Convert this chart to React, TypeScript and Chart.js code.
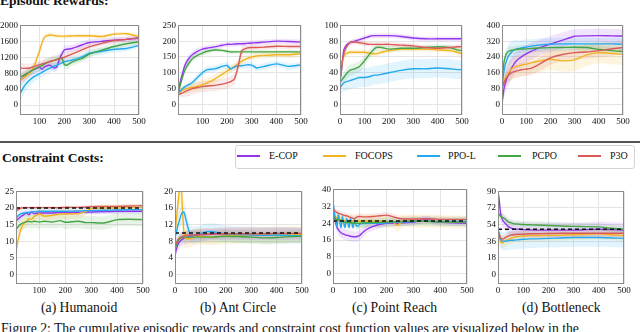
import React, { useEffect, useRef } from "react";
import { Chart, registerables } from "chart.js";
Chart.register(...registerables);

// ---------- DATA ----------
const SERIES_NAMES = ["E-COP", "FOCOPS", "PPO-L", "PCPO", "P3O"];
const PANEL_TITLES = ["(a) Humanoid", "(b) Ant Circle", "(c) Point Reach", "(d) Bottleneck"];
const COST_THRESHOLDS = [20, 10, 25, 49];

// Episodic rewards: Humanoid
const rHumX = [22, 40, 60, 80, 100, 110, 120, 140, 160, 170, 180, 190, 200, 210, 230, 250, 275, 300, 350, 400, 450, 500];
const rHumECOP = [620, 720, 820, 900, 950, 900, 960, 1000, 930, 960, 1150, 1280, 1380, 1400, 1420, 1460, 1520, 1570, 1600, 1630, 1650, 1680];
const rHumECOPsd = [120, 120, 110, 110, 100, 100, 100, 100, 100, 100, 110, 110, 100, 100, 90, 90, 90, 80, 80, 70, 70, 70];
const rHumFOCOPS = [620, 700, 800, 1000, 1350, 1550, 1700, 1760, 1745, 1735, 1730, 1730, 1730, 1730, 1735, 1740, 1740, 1740, 1720, 1780, 1790, 1720];
const rHumFOCOPSsd = [100, 100, 100, 100, 90, 80, 70, 60, 50, 50, 50, 50, 50, 50, 50, 50, 50, 50, 50, 50, 50, 60];
const rHumPPOL = [280, 480, 620, 720, 780, 820, 860, 920, 980, 1000, 1030, 1060, 1090, 1100, 1130, 1160, 1220, 1300, 1350, 1400, 1420, 1500];
const rHumPPOLsd = [200, 180, 150, 130, 120, 120, 110, 110, 100, 100, 100, 100, 100, 100, 90, 90, 90, 80, 80, 80, 70, 70];
const rHumPCPO = [700, 760, 830, 900, 960, 990, 1030, 1090, 1130, 1150, 1170, 1180, 1020, 1000, 1080, 1130, 1180, 1280, 1380, 1470, 1540, 1590];
const rHumPCPOsd = [100, 100, 100, 100, 100, 100, 110, 110, 120, 120, 120, 120, 110, 110, 100, 100, 90, 90, 80, 80, 70, 70];
const rHumP3O = [930, 920, 930, 970, 1010, 1030, 1050, 1090, 1120, 1140, 1160, 1180, 1200, 1230, 1280, 1330, 1400, 1460, 1550, 1620, 1650, 1690];
const rHumP3Osd = [130, 120, 110, 100, 100, 100, 100, 100, 100, 100, 90, 90, 90, 90, 90, 80, 80, 80, 70, 70, 60, 60];
const rHumYTicks = [0, 400, 800, 1200, 1600, 2000];

// Episodic rewards: Ant Circle
const rAntX = [1, 10, 20, 30, 45, 60, 80, 100, 120, 150, 180, 200, 215, 230, 245, 260, 280, 300, 320, 350, 400, 450, 500];
const rAntECOP = [34, 70, 100, 125, 145, 158, 168, 175, 178, 182, 187, 190, 190, 191, 192, 192, 193, 194, 195, 197, 200, 199, 197];
const rAntECOPsd = [5, 10, 12, 12, 12, 10, 10, 8, 8, 8, 8, 8, 8, 8, 8, 8, 8, 8, 8, 8, 8, 8, 8];
const rAntFOCOPS = [35, 40, 45, 48, 51, 54, 57, 62, 68, 80, 95, 105, 112, 120, 128, 137, 145, 150, 153, 155, 157, 157, 160];
const rAntFOCOPSsd = [8, 10, 12, 14, 15, 16, 16, 16, 15, 14, 14, 14, 13, 12, 12, 12, 10, 10, 10, 10, 10, 10, 10];
const rAntPPOL = [35, 42, 50, 56, 62, 70, 85, 100, 110, 112, 120, 123, 112, 118, 122, 122, 125, 124, 115, 120, 128, 120, 125];
const rAntPPOLsd = [6, 8, 8, 9, 9, 10, 10, 10, 10, 10, 10, 10, 10, 10, 10, 10, 10, 10, 10, 10, 10, 10, 10];
const rAntPCPO = [34, 60, 88, 110, 130, 145, 155, 162, 168, 172, 171, 168, 166, 166, 166, 166, 166, 166, 166, 166, 166, 166, 166];
const rAntPCPOsd = [5, 8, 10, 10, 10, 10, 8, 8, 8, 6, 6, 6, 6, 6, 6, 6, 6, 6, 6, 6, 6, 6, 6];
const rAntP3O = [30, 33, 36, 40, 45, 50, 53, 56, 58, 60, 64, 68, 72, 80, 120, 170, 178, 180, 180, 181, 184, 183, 183];
const rAntP3Osd = [8, 10, 14, 16, 18, 18, 18, 18, 18, 18, 18, 18, 18, 18, 20, 15, 10, 8, 8, 8, 8, 8, 8];
const rAntYTicks = [0, 50, 100, 150, 200, 250];

// Episodic rewards: Point Reach
const rPtX = [0, 5, 10, 15, 20, 30, 40, 50, 60, 80, 100, 120, 140, 150, 170, 200, 250, 300, 350, 400, 450, 480, 500];
const rPtECOP = [30, 40, 55, 68, 72, 76, 78, 79, 80, 82, 84, 86, 87, 87, 87, 87, 86, 84, 83, 83, 83, 83, 83];
const rPtECOPsd = [4, 5, 5, 4, 4, 3, 3, 3, 3, 3, 3, 3, 3, 3, 3, 3, 3, 3, 3, 3, 3, 3, 3];
const rPtFOCOPS = [35, 45, 55, 60, 63, 65, 66, 66, 66, 66, 66, 65, 64, 64, 66, 68, 70, 70, 70, 69, 68, 66, 64];
const rPtFOCOPSsd = [5, 6, 6, 5, 4, 4, 3, 3, 3, 3, 3, 3, 3, 3, 3, 3, 3, 3, 3, 3, 3, 3, 3];
const rPtPPOL = [21, 23, 25, 27, 28, 29, 30, 31, 32, 34, 34, 35, 37, 37, 38, 40, 43, 45, 45, 46, 45, 44, 44];
const rPtPPOLsd = [8, 9, 10, 10, 11, 11, 11, 11, 12, 12, 12, 12, 12, 12, 12, 12, 12, 12, 12, 12, 12, 12, 12];
const rPtPCPO = [28, 30, 32, 34, 36, 40, 43, 44, 45, 48, 55, 63, 70, 72, 72, 70, 71, 71, 72, 73, 72, 69, 68];
const rPtPCPOsd = [4, 5, 6, 6, 7, 7, 7, 7, 7, 7, 7, 6, 5, 5, 4, 4, 3, 3, 3, 3, 3, 3, 3];
const rPtP3O = [30, 42, 55, 63, 68, 74, 78, 79, 79, 78, 77, 76, 76, 76, 76, 76, 75, 74, 72, 71, 72, 73, 73];
const rPtP3Osd = [4, 5, 5, 4, 3, 3, 3, 3, 3, 3, 3, 3, 3, 3, 3, 3, 3, 3, 3, 3, 3, 3, 3];
const rPtYTicks = [0, 20, 40, 60, 80, 100];

// Episodic rewards: Bottleneck
const rBotX = [0, 5, 10, 20, 30, 40, 50, 60, 70, 80, 100, 120, 150, 200, 250, 300, 350, 400, 450, 500];
const rBotECOP = [0, 50, 90, 130, 160, 185, 205, 220, 232, 240, 255, 268, 285, 305, 325, 345, 347, 348, 347, 346];
const rBotECOPsd = [20, 40, 50, 55, 55, 55, 55, 50, 50, 50, 45, 45, 40, 40, 40, 35, 35, 35, 35, 35];
const rBotFOCOPS = [70, 100, 120, 145, 165, 180, 188, 192, 195, 198, 203, 210, 218, 228, 220, 225, 250, 262, 258, 253];
const rBotFOCOPSsd = [30, 40, 45, 50, 55, 55, 55, 55, 55, 55, 55, 55, 55, 55, 55, 55, 55, 55, 55, 55];
const rBotPPOL = [80, 140, 180, 225, 250, 265, 275, 280, 283, 285, 290, 295, 300, 305, 306, 306, 306, 306, 306, 305];
const rBotPPOLsd = [40, 50, 60, 60, 60, 55, 50, 45, 40, 40, 40, 35, 35, 30, 30, 30, 30, 30, 30, 30];
const rBotPCPO = [110, 180, 225, 260, 270, 274, 276, 278, 279, 280, 281, 283, 285, 287, 288, 289, 288, 278, 272, 268];
const rBotPCPOsd = [30, 30, 25, 20, 20, 20, 20, 20, 20, 20, 20, 20, 20, 20, 20, 20, 20, 20, 20, 20];
const rBotP3O = [80, 100, 115, 135, 150, 160, 165, 168, 172, 175, 178, 182, 200, 235, 252, 262, 265, 272, 280, 288];
const rBotP3Osd = [30, 35, 35, 35, 35, 35, 35, 35, 35, 35, 35, 35, 35, 35, 35, 35, 35, 35, 35, 35];
const rBotYTicks = [0, 80, 160, 240, 320, 400];

// Constraint costs: Humanoid
const cHumX = [10, 20, 30, 40, 50, 60, 70, 80, 100, 120, 150, 180, 200, 250, 280, 300, 350, 400, 450, 500];
const cHumECOP = [16, 16.8, 17.5, 18, 18.5, 18, 18.8, 18.3, 18.5, 18.5, 18.5, 18.6, 18.6, 18.7, 18.8, 18.8, 18.9, 19, 19, 19];
const cHumECOPsd = [1, 1, 1, 0.8, 0.8, 0.8, 0.8, 0.7, 0.7, 0.7, 0.7, 0.7, 0.7, 0.7, 0.7, 0.7, 0.7, 0.7, 0.7, 0.7];
const cHumFOCOPS = [7, 11, 14, 15.3, 16, 16.8, 16.6, 17.4, 18.2, 17.5, 17.8, 18.2, 18.2, 18.3, 19, 19.8, 20, 20, 20.1, 20.1];
const cHumFOCOPSsd = [2, 2, 1.8, 1.6, 1.5, 1.5, 1.5, 1.5, 1.5, 1.5, 1.5, 1.5, 1.5, 1.5, 1.2, 1, 1, 1, 1, 1];
const cHumPPOL = [17, 17.8, 18.3, 18.5, 18.6, 18.7, 18.8, 18.9, 19, 19, 19, 19, 19, 19.1, 19.2, 19.2, 19.3, 19.4, 19.5, 19.5];
const cHumPPOLsd = [1, 1, 1, 1, 1, 1, 1, 1, 1, 1, 1, 1, 1, 1, 1, 1, 1, 1, 1, 1];
const cHumPCPO = [13.5, 14.5, 15.2, 15.6, 15.8, 16, 15.8, 16, 15.8, 16, 15.8, 16.2, 15.7, 16, 15.6, 15.6, 15.5, 16.5, 16.6, 16.5];
const cHumPCPOsd = [1.5, 1.8, 2, 2, 2, 2, 2, 2, 2, 2, 2, 2, 2, 2, 2, 2, 2, 2, 2, 2];
const cHumP3O = [19, 19.6, 20, 20.1, 20.1, 20.1, 20.1, 20.1, 20.1, 20.1, 20.1, 20.1, 20.2, 20.2, 20.3, 20.4, 20.5, 20.5, 20.6, 20.7];
const cHumP3Osd = [0.5, 0.5, 0.5, 0.5, 0.5, 0.5, 0.5, 0.5, 0.5, 0.5, 0.5, 0.5, 0.5, 0.5, 0.5, 0.5, 0.5, 0.5, 0.5, 0.5];
const cHumYTicks = [0, 5, 10, 15, 20, 25];

// Constraint costs: Ant Circle
const cAntX = [0, 5, 10, 15, 20, 25, 30, 35, 40, 50, 60, 70, 80, 100, 125, 150, 175, 200, 250, 300, 350, 400, 450, 500];
const cAntECOP = [4.5, 6, 7, 7.6, 8, 8.3, 8.5, 8.7, 8.8, 9, 9.2, 9.3, 9.4, 9.5, 9.6, 9.7, 9.8, 9.8, 9.8, 9.8, 9.8, 9.8, 9.8, 9.7];
const cAntECOPsd = [1, 1.2, 1.4, 1.5, 1.5, 1.5, 1.5, 1.5, 1.5, 1.5, 1.5, 1.5, 1.5, 1.5, 1.5, 1.5, 1.5, 1.5, 1.5, 1.5, 1.5, 1.5, 1.5, 1.5];
const cAntFOCOPS = [10, 13, 16, 19, 21, 21, 15, 10, 8.7, 8.6, 8.6, 8.8, 9, 9.2, 9.1, 9, 9.2, 9.3, 9.4, 9.5, 9.5, 9.5, 9.6, 9.6];
const cAntFOCOPSsd = [2, 3, 4, 4, 4, 4, 4, 3, 2.5, 2, 2, 2, 2, 2, 2, 2, 2, 2, 2, 2, 2, 2, 2, 2];
const cAntPPOL = [9, 10, 11.5, 12.5, 13.5, 14.5, 15, 15, 14, 11.5, 9.8, 9.5, 9.5, 9.8, 10.3, 10.3, 10, 9.8, 9.6, 9.5, 9.4, 9.5, 9.4, 9.3];
const cAntPPOLsd = [1.5, 2, 2, 2.5, 2.5, 2.5, 2.5, 2.5, 2.5, 2, 2, 2, 2, 2, 2, 2, 2, 2, 2, 2, 2, 2, 2, 2];
const cAntPCPO = [6, 7, 7.8, 8.3, 8.6, 8.8, 8.9, 9, 9, 9, 9, 9, 9, 9, 9, 9, 9.1, 9.2, 9.1, 9, 8.8, 8.9, 9.1, 9.2];
const cAntPCPOsd = [1.5, 1.5, 1.5, 1.5, 1.5, 1.5, 1.5, 1.5, 1.5, 1.5, 1.5, 1.5, 1.5, 1.5, 1.5, 1.5, 1.5, 1.5, 1.5, 1.5, 1.5, 1.5, 1.5, 1.5];
const cAntP3O = [7, 7.6, 8.2, 8.6, 8.9, 9.1, 9.2, 9.3, 9.4, 9.5, 9.5, 9.5, 9.5, 9.6, 9.7, 9.7, 9.8, 9.8, 9.8, 9.8, 9.8, 9.9, 9.9, 9.9];
const cAntP3Osd = [1.2, 1.2, 1.2, 1.2, 1.2, 1.2, 1.2, 1.2, 1.2, 1.2, 1.2, 1.2, 1.2, 1.2, 1.2, 1.2, 1.2, 1.2, 1.2, 1.2, 1.2, 1.2, 1.2, 1.2];
const cAntYTicks = [0, 4, 8, 12, 16, 20];

// Constraint costs: Point Reach
const cPtX = [0, 5, 10, 15, 20, 25, 30, 35, 40, 45, 50, 55, 60, 65, 70, 75, 80, 85, 90, 100, 110, 125, 150, 175, 200, 225, 240, 260, 300, 350, 375, 400, 450, 500];
const cPtECOP = [30, 27, 24, 22, 21, 20, 19.5, 19, 18.8, 18.5, 18.3, 18.2, 18, 17.8, 17.7, 17.6, 17.6, 17.6, 17.7, 18.2, 19.5, 21, 22.5, 23.5, 24, 24, 24, 24.2, 24.5, 26, 25, 24.5, 24.2, 24];
const cPtECOPsd = [2, 2, 2.5, 2.5, 2.5, 2.5, 2.5, 2.5, 2.5, 2.5, 2.5, 2.5, 2.5, 2.5, 2.5, 2.5, 2.5, 2.5, 2.5, 2.5, 2.5, 2, 2, 2, 1.5, 1.5, 1.5, 1.5, 1.5, 1.5, 1.5, 1.5, 1.5, 1.5];
const cPtFOCOPS = [30, 28, 27, 26.5, 26, 25.8, 25.5, 25.3, 25.2, 25.1, 25, 25, 25, 25, 25, 25, 25, 25, 25, 25, 25, 25, 25, 25, 24.8, 24.5, 23, 24.8, 25, 25, 25, 24.8, 24.6, 24.5];
const cPtFOCOPSsd = [3, 3, 3, 3, 3, 3, 3, 3, 3, 3, 3, 3, 3, 3, 3, 3, 3, 3, 3, 3, 3, 3, 3, 3, 3, 3, 3, 3, 3, 3, 3, 3, 3, 3];
const cPtPPOL = [35, 29, 25, 22.5, 28, 25, 22, 27, 24, 22, 26, 24.5, 22, 26, 24, 22, 25.5, 23.5, 22.5, 23.5, 23.8, 23.8, 24, 24, 24.2, 24.5, 24.5, 24.6, 24.8, 25, 24.8, 24.8, 24.8, 24.8];
const cPtPPOLsd = [2, 2, 2, 2, 2, 2, 2, 2, 2, 2, 2, 2, 2, 2, 2, 2, 2, 2, 2, 2, 2, 2, 2, 2, 2, 2, 2, 2, 2, 2, 2, 2, 2, 2];
const cPtPCPO = [27, 26.5, 26, 25.8, 25.5, 25.3, 25, 24.8, 24.6, 24.5, 24.4, 24.3, 24.2, 24.2, 24.1, 24, 24, 24, 24, 24, 24.1, 24.2, 24.3, 24.4, 24.5, 24.6, 24.7, 24.8, 25, 24.8, 24.7, 24.6, 24.5, 24.5];
const cPtPCPOsd = [2, 2, 2, 2, 2, 2, 2, 2, 2, 2, 2, 2, 2, 2, 2, 2, 2, 2, 2, 2, 2, 2, 2, 2, 2, 2, 2, 2, 2, 2, 2, 2, 2, 2];
const cPtP3O = [31, 30, 29.5, 29, 28.8, 28.5, 28.3, 28, 27.8, 27.6, 27.5, 27.3, 27, 26.8, 26.5, 26.3, 26.2, 26.5, 27, 27.2, 27, 27, 27.2, 27.5, 27.8, 27, 26.5, 26, 26, 26, 26, 25.8, 25.8, 25.8];
const cPtP3Osd = [1.5, 1.5, 1.5, 1.5, 1.5, 1.5, 1.5, 1.5, 1.5, 1.5, 1.5, 1.5, 1.5, 1.5, 1.5, 1.5, 1.5, 1.5, 1.5, 1.5, 1.5, 1.5, 1.5, 1.5, 1.5, 1.5, 1.5, 1.5, 1.5, 1.5, 1.5, 1.5, 1.5, 1.5];
const cPtYTicks = [0, 8, 16, 24, 32, 40];

// Constraint costs: Bottleneck
const cBotX = [0, 5, 10, 15, 20, 30, 40, 50, 60, 80, 100, 125, 150, 200, 250, 300, 350, 400, 450, 500];
const cBotECOP = [90, 80, 67, 61, 58, 55, 52, 50.5, 49.5, 49, 48.5, 48.3, 48, 48, 48, 48, 48.5, 49, 48.5, 48];
const cBotECOPsd = [5, 6, 7, 8, 8, 8, 8, 8, 8, 8, 8, 8, 8, 8, 8, 8, 8, 8, 8, 8];
const cBotFOCOPS = [45, 40, 36, 34, 34.5, 36.5, 38, 39, 40, 41, 41.5, 42, 42, 42.3, 42.5, 43, 43.5, 44, 43, 42];
const cBotFOCOPSsd = [6, 6, 6, 6, 6, 6, 6, 6, 6, 6, 6, 6, 6, 6, 6, 6, 6, 6, 6, 6];
const cBotPPOL = [50, 42, 38, 36.5, 36, 36, 36.5, 37, 37, 37.5, 38, 38.5, 38.5, 39, 39.5, 40, 40, 40, 39.5, 39];
const cBotPPOLsd = [8, 9, 10, 10, 10, 10, 10, 10, 10, 10, 10, 10, 10, 10, 10, 10, 10, 10, 10, 10];
const cBotPCPO = [67, 65, 63, 62, 61.5, 59.5, 57, 56, 55, 54.5, 54, 53.8, 53.5, 53, 52.5, 52, 51.8, 51.5, 50, 49];
const cBotPCPOsd = [4, 4, 4, 4, 4, 4, 4, 4, 4, 4, 4, 4, 4, 4, 4, 4, 4, 4, 4, 4];
const cBotP3O = [48, 44, 40, 38, 38.5, 40, 41.5, 42.5, 43, 43.5, 43.5, 44, 44, 44.3, 44.5, 44.5, 44.5, 44.5, 44.5, 44.5];
const cBotP3Osd = [4, 4, 4, 4, 4, 4, 4, 4, 4, 4, 4, 4, 4, 4, 4, 4, 4, 4, 4, 4];
const cBotYTicks = [0, 18, 36, 54, 72, 90];

const xTicksFrom100 = [100, 200, 300, 400, 500];
const xTicksFrom0 = [0, 100, 200, 300, 400, 500];

// ---------- STYLE / LAYOUT ----------
const COLORS = ["#9236ec", "#f2b320", "#22a9ef", "#44a544", "#d95a58"];
const BAND_RGBA = [
  "rgba(146,54,236,0.13)",
  "rgba(242,179,32,0.15)",
  "rgba(34,169,239,0.13)",
  "rgba(68,165,68,0.13)",
  "rgba(217,90,88,0.13)",
];
const SERIF = "'Liberation Serif', 'Times New Roman', serif";
const CANVAS_SERIF = "Liberation Serif";
Chart.defaults.font.family = CANVAS_SERIF;
const YW = 24;
const XH = 12;
const PAD_TOP = 6;
const PAD_RIGHT = 10;

type PanelDef = {
  x: number[];
  series: number[][];
  sds: number[][];
  xTicks: number[];
  yTicks: number[];
  xMin: number;
  yMin: number;
  yMax: number;
  threshold?: number;
  rect: [number, number, number, number]; // plot area left, top, right, bottom
};

const PANELS: PanelDef[] = [
  { x: rHumX, series: [rHumECOP, rHumFOCOPS, rHumPPOL, rHumPCPO, rHumP3O], sds: [rHumECOPsd, rHumFOCOPSsd, rHumPPOLsd, rHumPCPOsd, rHumP3Osd], xTicks: xTicksFrom100, yTicks: rHumYTicks, xMin: 22, yMin: -250, yMax: 2000, rect: [20, 24, 139, 115] },
  { x: rAntX, series: [rAntECOP, rAntFOCOPS, rAntPPOL, rAntPCPO, rAntP3O], sds: [rAntECOPsd, rAntFOCOPSsd, rAntPPOLsd, rAntPCPOsd, rAntP3Osd], xTicks: xTicksFrom100, yTicks: rAntYTicks, xMin: 1, yMin: -34, yMax: 250, rect: [178, 24, 301, 115] },
  { x: rPtX, series: [rPtECOP, rPtFOCOPS, rPtPPOL, rPtPCPO, rPtP3O], sds: [rPtECOPsd, rPtFOCOPSsd, rPtPPOLsd, rPtPCPOsd, rPtP3Osd], xTicks: xTicksFrom0, yTicks: rPtYTicks, xMin: 0, yMin: -13.5, yMax: 100, rect: [340, 24, 462, 115] },
  { x: rBotX, series: [rBotECOP, rBotFOCOPS, rBotPPOL, rBotPCPO, rBotP3O], sds: [rBotECOPsd, rBotFOCOPSsd, rBotPPOLsd, rBotPCPOsd, rBotP3Osd], xTicks: xTicksFrom0, yTicks: rBotYTicks, xMin: 0, yMin: -55, yMax: 400, rect: [502, 24, 623, 115] },
  { x: cHumX, series: [cHumECOP, cHumFOCOPS, cHumPPOL, cHumPCPO, cHumP3O], sds: [cHumECOPsd, cHumFOCOPSsd, cHumPPOLsd, cHumPCPOsd, cHumP3Osd], xTicks: xTicksFrom100, yTicks: cHumYTicks, xMin: 10, yMin: -2.9, yMax: 25, threshold: COST_THRESHOLDS[0], rect: [16, 190, 143, 284] },
  { x: cAntX, series: [cAntECOP, cAntFOCOPS, cAntPPOL, cAntPCPO, cAntP3O], sds: [cAntECOPsd, cAntFOCOPSsd, cAntPPOLsd, cAntPCPOsd, cAntP3Osd], xTicks: xTicksFrom0, yTicks: cAntYTicks, xMin: 0, yMin: -2.3, yMax: 20, threshold: COST_THRESHOLDS[1], rect: [175, 190, 302, 284] },
  { x: cPtX, series: [cPtECOP, cPtFOCOPS, cPtPPOL, cPtPCPO, cPtP3O], sds: [cPtECOPsd, cPtFOCOPSsd, cPtPPOLsd, cPtPCPOsd, cPtP3Osd], xTicks: xTicksFrom0, yTicks: cPtYTicks, xMin: 0, yMin: -4.8, yMax: 40, threshold: COST_THRESHOLDS[2], rect: [333, 188, 467, 284] },
  { x: cBotX, series: [cBotECOP, cBotFOCOPS, cBotPPOL, cBotPCPO, cBotP3O], sds: [cBotECOPsd, cBotFOCOPSsd, cBotPPOLsd, cBotPCPOsd, cBotP3Osd], xTicks: xTicksFrom0, yTicks: cBotYTicks, xMin: 0, yMin: -10.5, yMax: 90, threshold: COST_THRESHOLDS[3], rect: [498, 190, 624, 284] },
];

const boxPlugin = {
  id: "plotBox",
  afterDatasetsDraw(chart: any) {
    const { ctx, chartArea } = chart;
    const l = Math.round(chartArea.left) + 0.5;
    const t = Math.round(chartArea.top) + 0.5;
    const w = Math.round(chartArea.right) - Math.round(chartArea.left) - 1;
    const h = Math.round(chartArea.bottom) - Math.round(chartArea.top) - 1;
    ctx.save();
    ctx.strokeStyle = "#8c8c8c";
    ctx.lineWidth = 1;
    ctx.strokeRect(l, t, w, h);
    ctx.restore();
  },
};

function PanelChart({ def }: { def: PanelDef }) {
  const ref = useRef<HTMLCanvasElement | null>(null);
  const [l, t, r, b] = def.rect;
  const cw = r - l + YW + PAD_RIGHT;
  const ch = b - t + PAD_TOP + XH;

  useEffect(() => {
    if (!ref.current) return;
    const datasets: any[] = [];
    // bands
    def.series.forEach((vals, i) => {
      const sd = def.sds[i];
      datasets.push({
        data: def.x.map((xv, k) => ({ x: xv, y: vals[k] + sd[k] })),
        borderWidth: 0,
        pointRadius: 0,
        backgroundColor: BAND_RGBA[i],
        fill: "+1",
        order: 20 + i,
        tension: 0.3,
      });
      datasets.push({
        data: def.x.map((xv, k) => ({ x: xv, y: vals[k] - sd[k] })),
        borderWidth: 0,
        pointRadius: 0,
        fill: false,
        order: 20 + i,
        tension: 0.3,
      });
    });
    // mean lines
    def.series.forEach((vals, i) => {
      datasets.push({
        label: SERIES_NAMES[i],
        data: def.x.map((xv, k) => ({ x: xv, y: vals[k] })),
        borderColor: COLORS[i],
        borderWidth: 1.4,
        pointRadius: 0,
        fill: false,
        order: 5 - i,
        tension: 0.2,
      });
    });
    if (def.threshold !== undefined) {
      datasets.push({
        data: [
          { x: def.xMin, y: def.threshold },
          { x: 500, y: def.threshold },
        ],
        borderColor: "#111",
        borderWidth: 1.5,
        borderDash: [4, 3],
        pointRadius: 0,
        fill: false,
        order: -1,
      });
    }
    const tickFont = { family: CANVAS_SERIF, size: 9 };
    const fmt = (v: any) => String(v);
    const chart = new Chart(ref.current, {
      type: "line",
      data: { datasets },
      plugins: [boxPlugin],
      options: {
        animation: false,
        responsive: false,
        devicePixelRatio: 1,
        layout: { padding: { top: PAD_TOP, right: PAD_RIGHT, left: 0, bottom: 0 } },
        plugins: { legend: { display: false }, tooltip: { enabled: false } },
        scales: {
          x: {
            type: "linear",
            min: def.xMin,
            max: 500,
            grid: { color: "#e4e4e4", drawTicks: false, lineWidth: 1 },
            border: { display: false },
            ticks: { font: tickFont, color: "#111", padding: 1, maxRotation: 0, autoSkip: false, callback: fmt },
            afterBuildTicks: (s: any) => {
              s.ticks = def.xTicks.map((v) => ({ value: v }));
            },
            afterFit: (s: any) => {
              s.height = XH;
            },
          },
          y: {
            type: "linear",
            min: def.yMin,
            max: def.yMax,
            grid: { color: "#e4e4e4", drawTicks: false, lineWidth: 1 },
            border: { display: false },
            ticks: { font: tickFont, color: "#111", padding: 2, autoSkip: false, callback: fmt },
            afterBuildTicks: (s: any) => {
              s.ticks = def.yTicks.map((v) => ({ value: v }));
            },
            afterFit: (s: any) => {
              s.width = YW;
            },
          },
        },
      } as any,
    });
    return () => chart.destroy();
  }, [def]);

  return (
    <canvas
      ref={ref}
      width={cw}
      height={ch}
      style={{ position: "absolute", left: l - YW, top: t - PAD_TOP, width: cw, height: ch }}
    />
  );
}

const LEGEND_POS = [
  { line: 237, text: 269 },
  { line: 323, text: 355 },
  { line: 417, text: 448 },
  { line: 498, text: 532 },
  { line: 578, text: 610 },
];
const CAPTION_X = [41, 200, 352, 522];

export default function App() {
  const textBase: React.CSSProperties = {
    position: "absolute",
    fontFamily: SERIF,
    whiteSpace: "nowrap",
    color: "#111",
  };
  return (
    <div
      style={{
        position: "absolute",
        left: 0,
        top: 0,
        width: 640,
        height: 332,
        overflow: "hidden",
        background: "#fff",
      }}
    >
      <div style={{ ...textBase, left: 0, top: -7, fontSize: 13.5, fontWeight: "bold", lineHeight: "16px" }}>
        Episodic Rewards:
      </div>
      {PANELS.map((p, i) => (
        <PanelChart key={i} def={p} />
      ))}
      <div style={{ position: "absolute", left: 0, top: 141, width: 640, height: 2, background: "#555" }} />
      <div style={{ ...textBase, left: 2, top: 150, fontSize: 13.5, fontWeight: "bold", lineHeight: "16px" }}>
        Constraint Costs:
      </div>
      <div
        style={{
          position: "absolute",
          left: 235,
          top: 145,
          width: 400,
          height: 24,
          border: "1px solid #d4d4d4",
          borderRadius: 3,
          boxSizing: "border-box",
        }}
      />
      {SERIES_NAMES.map((n, i) => (
        <React.Fragment key={n}>
          <div
            style={{
              position: "absolute",
              left: LEGEND_POS[i].line,
              top: 155,
              width: 23,
              height: 2,
              background: COLORS[i],
            }}
          />
          <div style={{ ...textBase, left: LEGEND_POS[i].text, top: 149, fontSize: 10, lineHeight: "14px" }}>{n}</div>
        </React.Fragment>
      ))}
      {PANEL_TITLES.map((t, i) => (
        <div key={t} style={{ ...textBase, left: CAPTION_X[i], top: 300, fontSize: 13.7, lineHeight: "16px" }}>
          {t}
        </div>
      ))}
      <div style={{ ...textBase, left: 1, top: 321, fontSize: 13.7, lineHeight: "16px" }}>
        Figure 2: The cumulative episodic rewards and constraint cost function values are visualized below in the
      </div>
    </div>
  );
}
